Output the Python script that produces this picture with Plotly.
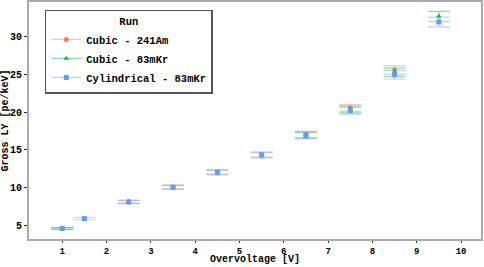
import plotly.graph_objects as go

# Data
am_x = [2.5, 3.5, 4.5, 5.5, 6.5, 7.5, 8.5]
am_y = [8.15, 10.1, 12.1, 14.4, 17.05, 20.55, 25.6]
am_err = [0.2, 0.25, 0.3, 0.35, 0.4, 0.45, 0.55]

kr_x = [1, 6.5, 7.5, 8.5, 9.5]
kr_y = [4.6, 16.95, 20.35, 25.3, 32.7]
kr_err = [0.12, 0.4, 0.45, 0.55, 0.65]

cyl_x = [1, 1.5, 2.5, 3.5, 4.5, 5.5, 6.5, 7.5, 8.5, 9.5]
cyl_y = [4.6, 5.9, 8.1, 10.05, 12.0, 14.3, 16.85, 20.2, 24.95, 31.95]
cyl_err = [0.12, 0.15, 0.2, 0.25, 0.3, 0.35, 0.4, 0.45, 0.55, 0.65]

x_title = "Overvoltage [V]"
y_title = "Gross LY [pe/keV]"

names = ["Cubic - 241Am", "Cubic - 83mKr", "Cylindrical - 83mKr"]
colors = ["#F8766D", "#00BA38", "#619CFF"]
faded = ["rgba(248,118,109,0.45)", "rgba(0,186,56,0.45)", "rgba(97,156,255,0.45)"]
symbols = ["circle", "triangle-up", "square"]

FONT = "Liberation Mono"

fig = go.Figure()
series = [(am_x, am_y, am_err), (kr_x, kr_y, kr_err), (cyl_x, cyl_y, cyl_err)]
for i, (xs, ys, es) in enumerate(series):
    fig.add_trace(go.Scatter(
        x=xs, y=ys, mode="markers", name=names[i], showlegend=False,
        marker=dict(color=colors[i], symbol=symbols[i], size=5),
        error_y=dict(type="data", array=es, visible=True, color=faded[i],
                     thickness=1.2, width=11),
    ))
# legend entries (line + marker keys)
for i in range(3):
    fig.add_trace(go.Scatter(
        x=[None], y=[None], mode="lines+markers", name=names[i],
        marker=dict(color=colors[i], symbol=symbols[i], size=5),
        line=dict(color=faded[i], width=1.2),
    ))

fig.add_annotation(
    text=x_title, xref="paper", yref="paper", x=0.5, y=0,
    xanchor="center", yanchor="bottom", yshift=-28, showarrow=False,
    font=dict(family=FONT, size=10, weight="bold", color="black"),
)

fig.update_layout(
    width=484, height=267,
    margin=dict(l=29, r=3, t=2, b=28),
    paper_bgcolor="white", plot_bgcolor="white",
    font=dict(family=FONT, size=10, color="black", weight="bold"),
    legend=dict(
        x=0.035, y=0.967, xanchor="left", yanchor="top",
        bordercolor="#555555", borderwidth=1.5, bgcolor="white",
        title=dict(text="Run", side="top center", font=dict(family=FONT, size=10.5, weight="bold")),
        font=dict(family=FONT, size=10.5, weight="bold"),
        itemwidth=30, tracegroupgap=0,
    ),
    xaxis=dict(
        range=[0.25, 10.45], tickvals=[1, 2, 3, 4, 5, 6, 7, 8, 9, 10],
        automargin=False,
        showline=True, mirror=True, linecolor="#aaaaaa", linewidth=2,
        showgrid=False, zeroline=False,
        ticks="outside", ticklen=2, tickcolor="#333333",
        tickfont=dict(family=FONT, size=9, weight="bold"),
    ),
    yaxis=dict(
        range=[3.2, 34.6], tickvals=[5, 10, 15, 20, 25, 30],
        automargin=False,
        showline=True, mirror=True, linecolor="#aaaaaa", linewidth=2,
        showgrid=False, zeroline=False,
        ticks="outside", ticklen=3, tickcolor="#333333",
        tickfont=dict(family=FONT, size=10, weight="bold"),
        title=dict(text=y_title, standoff=0,
                   font=dict(family=FONT, size=10, weight="bold")),
    ),
)

fig.write_html(
    "out.html",
    config={"displayModeBar": False},
    post_script="document.body.style.margin='0';document.body.style.padding='0';",
)
